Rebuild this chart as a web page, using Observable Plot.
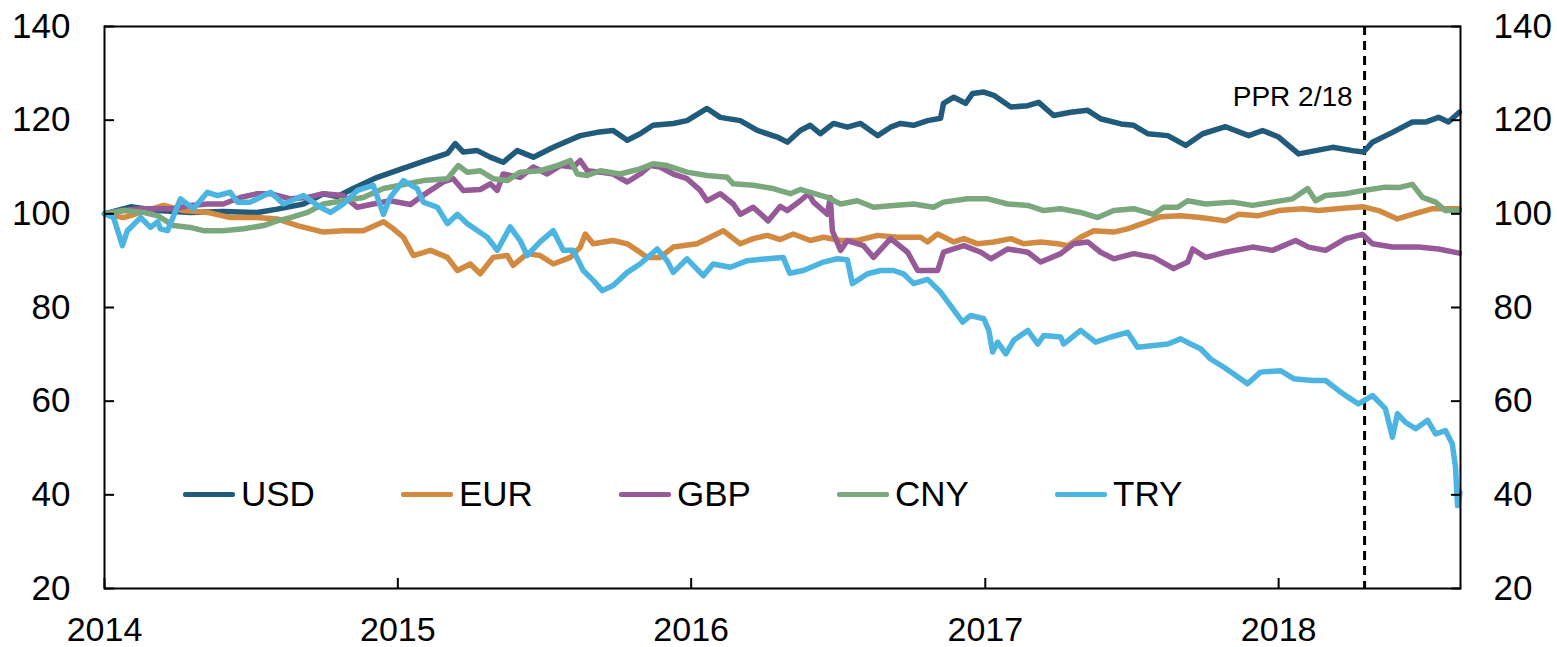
<!DOCTYPE html>
<html>
<head>
<meta charset="utf-8">
<script src="https://cdn.jsdelivr.net/npm/d3@7"></script>
<script src="https://cdn.jsdelivr.net/npm/@observablehq/plot@0.6"></script>
<style>
  html, body { margin: 0; padding: 0; background: #fff; }
  #wrap { position: relative; width: 1557px; height: 647px; font-family: "Liberation Sans", Arial, sans-serif; }
  #legend { position: absolute; left: 183px; top: 474px; display: flex; }
  .item { display: flex; align-items: center; width: 218px; height: 40px; font-size: 35px; color: #000; }
  .swatch { width: 52px; height: 5px; margin-right: 6px; border-radius: 2px; }
</style>
</head>
<body>
<div id="wrap"><div id="chart"></div><div id="legend"></div></div>
<script>
// Series (decimal year, index value)
const names = ["USD", "EUR", "GBP", "CNY", "TRY"];
const colors = ["#215b7c", "#d28a40", "#975a98", "#7aa87c", "#4bb4e1"];
const years = [2014, 2015, 2016, 2017, 2018];
const yTicks = [20, 40, 60, 80, 100, 120, 140];
const xEnd = 2018.620;
const pprT = 2018.293;
const pprLabel = "PPR 2/18";

const USD = [[2014.000,100],[2014.089,101.5],[2014.181,100.7],[2014.293,100.3],[2014.405,100.5],[2014.521,100.3],[2014.589,101],[2014.678,102.1],[2014.746,104.3],[2014.794,103.7],[2014.848,105.4],[2014.930,107.8],[2015.008,109.5],[2015.087,111.2],[2015.169,112.9],[2015.196,115],[2015.223,113.2],[2015.271,113.5],[2015.315,112.1],[2015.359,111],[2015.407,113.5],[2015.462,112.1],[2015.530,114.2],[2015.622,116.7],[2015.680,117.4],[2015.734,117.8],[2015.782,115.7],[2015.826,117.1],[2015.870,118.9],[2015.939,119.3],[2015.986,119.9],[2016.054,122.5],[2016.099,120.6],[2016.167,119.9],[2016.225,117.8],[2016.293,116.4],[2016.327,115.3],[2016.371,117.8],[2016.405,118.9],[2016.439,117.1],[2016.484,119.3],[2016.531,118.5],[2016.576,119.3],[2016.634,116.7],[2016.678,118.5],[2016.712,119.3],[2016.756,118.9],[2016.804,119.9],[2016.848,120.4],[2016.858,123.6],[2016.893,124.9],[2016.933,123.6],[2016.957,125.7],[2016.995,126],[2017.029,125.3],[2017.087,122.8],[2017.145,123.1],[2017.182,123.8],[2017.233,121],[2017.291,121.7],[2017.349,122.1],[2017.393,120.3],[2017.462,119.2],[2017.506,118.9],[2017.554,117.1],[2017.622,116.7],[2017.683,114.6],[2017.741,117.1],[2017.819,118.6],[2017.898,116.7],[2017.945,117.8],[2018.000,116.4],[2018.068,112.8],[2018.126,113.5],[2018.184,114.2],[2018.252,113.5],[2018.289,113.2],[2018.320,115.3],[2018.388,117.4],[2018.456,119.6],[2018.501,119.6],[2018.545,120.6],[2018.579,119.6],[2018.616,121.7]];

const EUR = [[2014.000,100],[2014.065,99.2],[2014.123,100.3],[2014.201,101.8],[2014.269,100.7],[2014.351,100.3],[2014.429,99.2],[2014.521,99.2],[2014.589,98.9],[2014.658,97.5],[2014.746,96.1],[2014.814,96.4],[2014.882,96.4],[2014.951,98.3],[2014.985,96.8],[2015.019,95],[2015.053,91.1],[2015.111,92.2],[2015.169,90.7],[2015.203,87.9],[2015.247,89.3],[2015.281,87.2],[2015.325,90.7],[2015.373,91.1],[2015.393,89],[2015.441,91.5],[2015.485,91.1],[2015.530,89.3],[2015.588,90.7],[2015.622,92.9],[2015.639,95.7],[2015.666,93.6],[2015.734,94.3],[2015.782,93.6],[2015.816,92.2],[2015.850,90.7],[2015.894,90.7],[2015.939,92.9],[2016.020,93.6],[2016.065,95],[2016.109,96.4],[2016.167,93.6],[2016.211,94.7],[2016.259,95.4],[2016.303,94.5],[2016.347,95.7],[2016.405,94.3],[2016.450,95],[2016.508,94.3],[2016.565,94.3],[2016.634,95.4],[2016.702,95],[2016.780,95],[2016.804,94],[2016.838,95.7],[2016.893,94],[2016.927,94.7],[2016.974,93.6],[2017.029,94],[2017.087,94.7],[2017.131,93.6],[2017.189,94],[2017.247,93.6],[2017.281,93.2],[2017.325,95],[2017.370,96.4],[2017.438,96.1],[2017.485,96.8],[2017.540,98],[2017.598,99.4],[2017.666,99.6],[2017.734,99.2],[2017.819,98.5],[2017.864,99.9],[2017.932,99.6],[2018.000,100.7],[2018.082,101.1],[2018.136,100.7],[2018.218,101.2],[2018.289,101.5],[2018.341,100.7],[2018.405,98.9],[2018.456,99.9],[2018.525,101.1],[2018.616,101.1]];

const GBP = [[2014.000,100],[2014.065,100.7],[2014.123,101.1],[2014.181,101.1],[2014.235,101.1],[2014.293,101.8],[2014.351,102.1],[2014.405,102.1],[2014.463,103.5],[2014.521,104.3],[2014.566,104.3],[2014.634,103.2],[2014.692,103.5],[2014.746,104.3],[2014.814,103.9],[2014.862,101.4],[2014.916,102.1],[2014.974,102.8],[2015.043,102],[2015.087,104],[2015.155,106.8],[2015.189,107.5],[2015.223,105],[2015.281,105.2],[2015.315,106.4],[2015.339,105],[2015.359,108.5],[2015.417,107.8],[2015.462,110],[2015.509,108.5],[2015.554,110.3],[2015.598,110],[2015.622,111.4],[2015.646,109.2],[2015.690,108.9],[2015.734,108.5],[2015.782,106.8],[2015.826,108.5],[2015.860,110.3],[2015.894,110],[2015.939,108.5],[2015.986,107.5],[2016.031,105],[2016.054,102.8],[2016.099,104.3],[2016.143,102.1],[2016.167,99.9],[2016.211,101.4],[2016.262,98.5],[2016.303,101.6],[2016.327,100.7],[2016.371,102.8],[2016.399,104.3],[2016.416,102.5],[2016.463,99.9],[2016.473,103.5],[2016.480,96.4],[2016.508,92.2],[2016.531,94.3],[2016.586,93.2],[2016.620,90.7],[2016.678,94.7],[2016.736,91.8],[2016.770,87.9],[2016.838,87.9],[2016.858,91.8],[2016.927,93.2],[2016.985,91.8],[2017.019,90.4],[2017.077,92.5],[2017.145,91.8],[2017.189,89.7],[2017.257,91.5],[2017.301,93.6],[2017.349,94],[2017.393,91.8],[2017.438,90.4],[2017.506,91.5],[2017.574,90.7],[2017.642,88.3],[2017.690,89.7],[2017.707,92.5],[2017.751,90.7],[2017.819,91.8],[2017.911,92.9],[2017.979,92.2],[2018.058,94.3],[2018.102,92.9],[2018.160,92.2],[2018.228,94.7],[2018.286,95.6],[2018.320,93.6],[2018.388,92.9],[2018.477,92.9],[2018.545,92.5],[2018.616,91.6]];

const CNY = [[2014.000,100],[2014.065,100.7],[2014.133,100.3],[2014.181,99.6],[2014.235,97.5],[2014.293,97.1],[2014.337,96.4],[2014.405,96.4],[2014.474,96.8],[2014.542,97.5],[2014.589,98.5],[2014.634,99.2],[2014.692,100.3],[2014.746,102.1],[2014.814,102.8],[2014.882,103.5],[2014.951,105.4],[2015.008,106.1],[2015.087,107.1],[2015.169,107.5],[2015.206,110.3],[2015.237,108.9],[2015.281,109.2],[2015.325,107.5],[2015.373,107.1],[2015.417,108.9],[2015.485,109.2],[2015.543,110.3],[2015.588,111.4],[2015.612,108.5],[2015.646,108.2],[2015.690,109.2],[2015.758,108.5],[2015.826,109.6],[2015.870,110.7],[2015.918,110.3],[2015.986,108.9],[2016.054,108.2],[2016.123,107.8],[2016.143,106.4],[2016.211,106.1],[2016.279,105.4],[2016.337,104.3],[2016.371,105.2],[2016.463,103.5],[2016.508,102.1],[2016.565,102.8],[2016.620,101.4],[2016.688,101.8],[2016.756,102.1],[2016.824,101.4],[2016.858,102.5],[2016.940,103.2],[2017.008,103.2],[2017.077,102.1],[2017.145,101.8],[2017.199,100.7],[2017.257,101.1],[2017.325,100.3],[2017.383,99.2],[2017.438,100.7],[2017.506,101.1],[2017.574,99.9],[2017.608,101.4],[2017.656,101.4],[2017.690,102.8],[2017.751,102.1],[2017.843,102.5],[2017.911,101.8],[2017.979,102.5],[2018.048,103.2],[2018.099,105.4],[2018.126,102.8],[2018.160,103.9],[2018.228,104.3],[2018.289,105],[2018.364,105.7],[2018.409,105.6],[2018.456,106.3],[2018.491,103.5],[2018.535,102.5],[2018.569,100.7],[2018.616,100.7]];

const TRY = [[2014.000,100],[2014.031,99.2],[2014.061,93.2],[2014.078,96.4],[2014.123,99.2],[2014.157,97.1],[2014.181,98.3],[2014.191,96.8],[2014.215,96.4],[2014.259,103.2],[2014.303,101.1],[2014.351,104.6],[2014.385,103.9],[2014.429,104.6],[2014.453,102.5],[2014.497,102.5],[2014.566,104.6],[2014.610,102.1],[2014.678,103.9],[2014.736,101.4],[2014.770,100.3],[2014.814,102.1],[2014.862,105],[2014.916,106.1],[2014.951,99.9],[2014.974,103.5],[2015.019,107.1],[2015.066,105.4],[2015.087,102.5],[2015.135,101.4],[2015.169,97.9],[2015.203,99.9],[2015.237,97.9],[2015.305,95],[2015.339,92.2],[2015.383,97.2],[2015.417,94.3],[2015.441,91.1],[2015.485,94],[2015.530,96.4],[2015.564,92.2],[2015.598,92.2],[2015.632,87.9],[2015.666,85.8],[2015.697,83.6],[2015.734,84.7],[2015.782,87.5],[2015.826,89.3],[2015.884,92.5],[2015.918,90],[2015.939,87.5],[2015.986,90.4],[2016.041,86.8],[2016.075,89.3],[2016.133,88.6],[2016.191,90],[2016.259,90.4],[2016.313,90.7],[2016.335,87.3],[2016.381,87.9],[2016.450,89.7],[2016.497,90.4],[2016.531,90.2],[2016.548,85.1],[2016.600,87.2],[2016.644,87.9],[2016.688,87.9],[2016.722,87.2],[2016.756,85.1],[2016.804,86],[2016.848,83.3],[2016.882,80.4],[2016.923,76.9],[2016.950,78.3],[2016.995,77.6],[2017.012,75.1],[2017.025,70.5],[2017.042,72.6],[2017.070,70.1],[2017.097,73],[2017.145,75.1],[2017.179,72.2],[2017.199,74],[2017.257,73.7],[2017.267,72.2],[2017.325,75.1],[2017.376,72.6],[2017.428,73.7],[2017.485,74.7],[2017.519,71.5],[2017.574,71.9],[2017.622,72.2],[2017.666,73.3],[2017.700,72.2],[2017.734,71.2],[2017.768,69],[2017.812,67.3],[2017.847,65.8],[2017.894,63.7],[2017.938,66.2],[2018.007,66.5],[2018.051,64.8],[2018.116,64.4],[2018.160,64.4],[2018.204,62.3],[2018.238,60.8],[2018.272,59.4],[2018.320,61.2],[2018.364,58.4],[2018.388,52.3],[2018.405,57.3],[2018.432,55.5],[2018.467,54.1],[2018.508,55.9],[2018.535,53],[2018.569,53.7],[2018.592,50.9],[2018.603,45.9],[2018.610,37.7],[2018.618,40.5]];

const seriesData = [USD, EUR, GBP, CNY, TRY];

function toDate(t) {
  const y = Math.floor(t);
  const s = Date.UTC(y, 0, 1), e = Date.UTC(y + 1, 0, 1);
  return new Date(s + (t - y) * (e - s));
}

const rows = [];
names.forEach((n, i) => seriesData[i].forEach(([t, v]) => rows.push({name: n, date: toDate(t), value: v})));
const yearDates = years.map(y => toDate(y));

const chart = Plot.plot({
  width: 1557,
  height: 647,
  marginLeft: 104,
  marginRight: 97,
  marginTop: 26,
  marginBottom: 59,
  style: {fontFamily: "'Liberation Sans', Arial, sans-serif", fontSize: "35px", color: "#000", background: "#fff"},
  x: {type: "utc", domain: [toDate(2014), toDate(xEnd)], axis: null},
  y: {domain: [20, 140], axis: null},
  color: {domain: names, range: colors},
  marks: [
    Plot.ruleX([{t: pprT}], {x: d => toDate(d.t), stroke: "#000", strokeWidth: 3, strokeDasharray: "9,6"}),
    Plot.text([{t: pprT, label: pprLabel}], {x: d => toDate(d.t), text: "label", frameAnchor: "top", dy: 60, dx: -12, textAnchor: "end", fontSize: 28, fill: "#000"}),
    Plot.line(rows, {x: "date", y: "value", z: "name", stroke: "name", strokeWidth: 5.5, strokeLinejoin: "round", strokeLinecap: "round"}),
    Plot.frame({stroke: "#000", strokeWidth: 2}),
    Plot.axisX(yearDates, {anchor: "bottom", tickSize: 0, tickPadding: 28, fontSize: 34, tickFormat: d => String(d.getUTCFullYear()), label: null}),
    Plot.axisX(yearDates, {anchor: "bottom", tickSize: -10, tickFormat: () => "", label: null, strokeWidth: 2}),
    Plot.axisY(yTicks, {anchor: "left", tickSize: 0, tickPadding: 34, fontSize: 35, label: null}),
    Plot.axisY(yTicks, {anchor: "left", tickSize: -10, tickFormat: () => "", label: null, strokeWidth: 2}),
    Plot.axisY(yTicks, {anchor: "right", tickSize: 0, tickPadding: 33, fontSize: 35, label: null}),
    Plot.axisY(yTicks, {anchor: "right", tickSize: -10, tickFormat: () => "", label: null, strokeWidth: 2})
  ]
});
document.getElementById("chart").appendChild(chart);

const legend = document.getElementById("legend");
names.forEach((n, i) => {
  const item = document.createElement("div");
  item.className = "item";
  const sw = document.createElement("div");
  sw.className = "swatch";
  sw.style.background = colors[i];
  const lab = document.createElement("span");
  lab.textContent = n;
  item.appendChild(sw);
  item.appendChild(lab);
  legend.appendChild(item);
});
</script>
</body>
</html>
